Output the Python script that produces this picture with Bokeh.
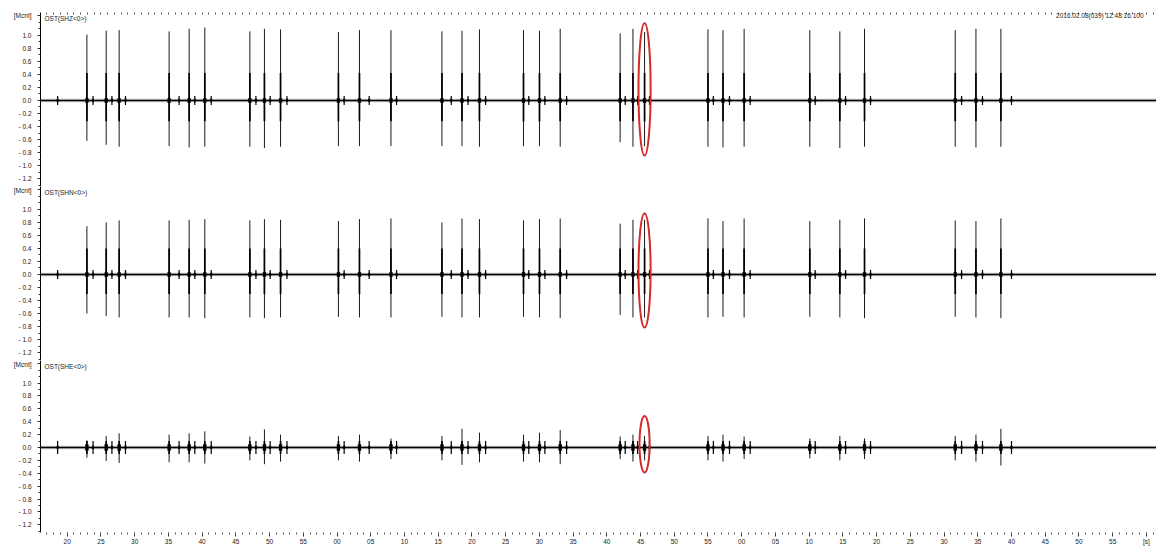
from bokeh.plotting import figure
from bokeh.layouts import column
from bokeh.models import (Range1d, FixedTicker, CustomJSTickFormatter, Label,
                          ColumnDataSource, LinearAxis)
from bokeh.embed import file_html
from bokeh.resources import INLINE

# ---------------- data ----------------
trace_start = 16.04
trace_end = 181.5

# main event times [s] (shared by the three components)
spike_t = [22.92, 25.78, 27.70, 35.11, 38.08, 40.40, 47.08, 49.24, 51.63,
           60.21, 63.33, 68.00, 75.56, 78.53, 81.12, 87.65, 90.02, 93.09,
           101.98, 103.88, 105.60, 115.00, 117.23, 120.36, 130.10, 134.55,
           138.21, 151.66, 154.73, 158.43]

# small secondary bursts [s]
burst_t = [18.58, 23.83, 26.63, 28.64, 36.59, 38.92, 41.35, 47.98, 50.09, 52.58,
           61.06, 64.77, 68.83, 76.94, 79.43, 82.03, 88.43, 90.82, 94.04,
           102.73, 104.57, 106.33, 115.80, 118.19, 121.26, 130.90, 135.40,
           139.10, 152.60, 155.70, 160.00]

shz_up = [1.01, 1.07, 1.08, 1.06, 1.10, 1.12, 1.06, 1.10, 1.09, 1.05, 1.08, 1.08,
          1.06, 1.07, 1.09, 1.08, 1.07, 1.10, 1.03, 1.10, 1.05, 1.09, 1.08, 1.10,
          1.08, 1.06, 1.10, 1.08, 1.10, 1.10]
shz_down = [-0.62, -0.68, -0.71, -0.70, -0.72, -0.71, -0.71, -0.73, -0.71, -0.70,
            -0.70, -0.70, -0.70, -0.70, -0.71, -0.70, -0.70, -0.71, -0.64, -0.71,
            -0.70, -0.71, -0.72, -0.71, -0.71, -0.73, -0.71, -0.71, -0.72, -0.71]

shn_up = [0.74, 0.80, 0.83, 0.83, 0.84, 0.85, 0.83, 0.85, 0.84, 0.82, 0.85, 0.86,
          0.80, 0.86, 0.85, 0.83, 0.85, 0.86, 0.78, 0.84, 0.84, 0.86, 0.82, 0.86,
          0.82, 0.84, 0.86, 0.83, 0.82, 0.86]
shn_down = [-0.60, -0.64, -0.66, -0.66, -0.66, -0.67, -0.66, -0.67, -0.66, -0.65,
            -0.66, -0.66, -0.65, -0.66, -0.66, -0.65, -0.66, -0.67, -0.62, -0.66,
            -0.66, -0.66, -0.65, -0.66, -0.65, -0.66, -0.67, -0.65, -0.66, -0.67]

she_up = [0.11, 0.18, 0.22, 0.20, 0.22, 0.25, 0.17, 0.28, 0.20, 0.18, 0.20, 0.14,
          0.18, 0.29, 0.23, 0.20, 0.23, 0.27, 0.17, 0.20, 0.18, 0.18, 0.20, 0.17,
          0.14, 0.18, 0.14, 0.18, 0.20, 0.29]
she_down = [-0.16, -0.21, -0.24, -0.23, -0.23, -0.25, -0.20, -0.26, -0.22, -0.20,
            -0.22, -0.18, -0.20, -0.27, -0.23, -0.22, -0.23, -0.26, -0.18, -0.22,
            -0.20, -0.20, -0.22, -0.18, -0.17, -0.20, -0.18, -0.20, -0.22, -0.28]

channel_names = ["OST(SHZ<0>)", "OST(SHN<0>)", "OST(SHE<0>)"]
channel_up = [shz_up, shn_up, she_up]
channel_down = [shz_down, shn_down, she_down]
core_up = [0.42, 0.40, 0.10]
core_down = [-0.32, -0.30, -0.10]
burst_amp = [0.07, 0.07, 0.10]

ellipse_t = 105.6
ellipse_y = [0.17, 0.06, 0.05]
ellipse_h = [2.03, 1.75, 0.88]
ellipse_w = [1.8, 1.8, 1.5]

y_ticks = [-1.2, -1.0, -0.8, -0.6, -0.4, -0.2, 0.0, 0.2, 0.4, 0.6, 0.8, 1.0, 1.3]
y_minor = [-1.3, -1.1, -0.9, -0.7, -0.5, -0.3, -0.1, 0.1, 0.3, 0.5, 0.7, 0.9, 1.1, 1.2]
x_ticks = list(range(20, 181, 5))
x_minor = list(range(17, 182))

timestamp = "2016.02.08(039) 12:48:16.100"
unit_label = "[Mcnt]"

# ---------------- styling ----------------
FONT = "Liberation Sans"
FS = "6.5px"
TXT = "#222222"
W = 1156
FRAME_H = 174
LEFT = 40

xr = Range1d(trace_start, trace_end)

yfmt = CustomJSTickFormatter(args=dict(unit=unit_label), code="""
if (tick > 1.25) return unit;
const a = Math.abs(tick).toFixed(1);
return tick < -0.01 ? "- " + a : a;
""")
xfmt = CustomJSTickFormatter(code="""
const v = Math.round(tick);
if (v >= 180) return "[s]";
const m = v % 60;
return (m < 10 ? "0" : "") + m;
""")

figs = []
for i in range(3):
    top = 12 if i == 0 else 0
    bottom = 13 if i == 2 else 0
    p = figure(width=W, height=FRAME_H + top + bottom, x_range=xr,
               y_range=Range1d(-1.32, 1.35), output_backend="svg",
               toolbar_location=None,
               x_axis_location="below" if i == 2 else None,
               min_border_left=LEFT, min_border_right=0,
               min_border_top=top, min_border_bottom=bottom)
    p.grid.visible = False
    p.outline_line_color = None
    p.background_fill_color = "white"
    p.border_fill_color = "white"

    ya = p.yaxis[0]
    ya.ticker = FixedTicker(ticks=y_ticks, minor_ticks=y_minor)
    ya.formatter = yfmt
    ya.major_tick_out = 3
    ya.major_tick_in = 0
    ya.minor_tick_out = 2
    ya.minor_tick_in = 0
    ya.axis_line_color = "black"
    ya.major_tick_line_color = "#333333"
    ya.minor_tick_line_color = "#333333"
    ya.major_label_text_font = FONT
    ya.major_label_text_font_size = FS
    ya.major_label_text_color = TXT
    ya.major_label_standoff = 6

    if i == 0:
        xa_top = LinearAxis(ticker=FixedTicker(ticks=[], minor_ticks=x_minor))
        p.add_layout(xa_top, "above")
        xa_top.axis_line_alpha = 0
        xa_top.major_tick_in = 0
        xa_top.major_tick_out = 0
        xa_top.minor_tick_in = 2
        xa_top.minor_tick_out = 0
        xa_top.minor_tick_line_color = "#555555"
        xa_top.major_label_standoff = 0
    if i == 2:
        xa = p.xaxis[0]
        xa.ticker = FixedTicker(ticks=x_ticks, minor_ticks=x_minor)
        xa.formatter = xfmt
        xa.axis_line_alpha = 0
        xa.major_tick_in = 0
        xa.major_tick_out = 4
        xa.minor_tick_in = 0
        xa.minor_tick_out = 2
        xa.major_tick_line_color = "#333333"
        xa.minor_tick_line_color = "#555555"
        xa.major_label_text_font = FONT
        xa.major_label_text_font_size = FS
        xa.major_label_text_color = TXT
        xa.major_label_standoff = 1

    # baseline (with noisy grey halo)
    p.line(x=[trace_start, trace_end], y=[0, 0], line_color="#8a8a8a",
           line_width=3.5, line_alpha=0.45)
    p.line(x=[trace_start, trace_end], y=[0, 0], line_color="black", line_width=1.6)

    src = ColumnDataSource(dict(t=spike_t, up=channel_up[i], down=channel_down[i],
                                cu=[core_up[i]] * len(spike_t),
                                cd=[core_down[i]] * len(spike_t)))
    p.segment(x0="t", y0="down", x1="t", y1="up", source=src,
              line_color="#1a1a1a", line_width=1)
    p.segment(x0="t", y0="cd", x1="t", y1="cu", source=src,
              line_color="black", line_width=1.7)
    p.rect(x="t", y=0, width=0.5, height=0.07 if i < 2 else 0.1, source=src,
           fill_color="black", line_color=None)

    bsrc = ColumnDataSource(dict(t=burst_t, a=[burst_amp[i]] * len(burst_t),
                                 b=[-burst_amp[i]] * len(burst_t)))
    p.segment(x0="t", y0="b", x1="t", y1="a", source=bsrc,
              line_color="black", line_width=1.2)
    p.rect(x="t", y=0, width=0.3, height=0.05, source=bsrc,
           fill_color="black", line_color=None)

    p.ellipse(x=[ellipse_t], y=[ellipse_y[i]], width=[ellipse_w[i]],
              height=[ellipse_h[i]], fill_color=None, line_color="#d42a2a",
              line_width=2)

    p.add_layout(Label(x=4, x_units="screen", y=1.26, y_units="data",
                       text=channel_names[i], text_baseline="middle",
                       text_font=FONT, text_font_size=FS, text_color=TXT))
    if i == 0:
        p.add_layout(Label(x=1103, x_units="screen", y=1.31, y_units="data",
                           text=timestamp, text_align="right", text_baseline="middle",
                           text_font=FONT, text_font_size=FS, text_color=TXT))
    figs.append(p)

layout = column(*figs, spacing=0)
open("out.html", "w").write(file_html(layout, INLINE))
